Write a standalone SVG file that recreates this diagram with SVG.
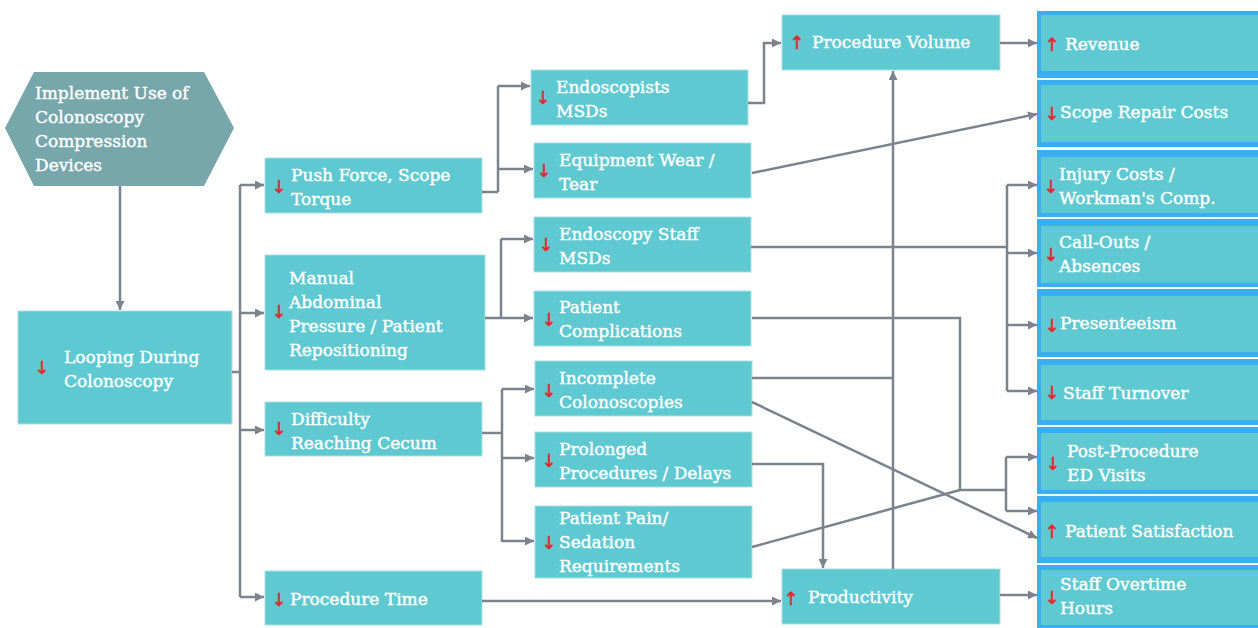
<svg xmlns="http://www.w3.org/2000/svg" width="1258" height="628" viewBox="0 0 1258 628">
<defs>
<marker id="ah" viewBox="0 0 10 10" refX="10" refY="5" markerWidth="9" markerHeight="9" markerUnits="userSpaceOnUse" orient="auto">
<path d="M0,0 L10,5 L0,10 z" fill="#7b848d"/>
</marker>
<style>
.box{fill:#5fc9d1;stroke:#a6e0e4;stroke-width:1}
.ob{fill:#3aaef2}
.ib{fill:#5fc9d1}
.t{font-family:"DejaVu Serif","Liberation Serif",serif;font-size:17px;fill:#ffffff;stroke:#ffffff;stroke-width:0.4}
.r{font-family:"DejaVu Sans",sans-serif;font-size:18px;fill:#e5232a;stroke:#e5232a;stroke-width:0.5;text-anchor:middle}
.c path{stroke:#7b848d;stroke-width:2.5;fill:none}
.c path.a{marker-end:url(#ah)}
</style>
</defs>
<rect width="1258" height="628" fill="#ffffff"/>

<g id="implement">
<polygon points="5,128 34,72 204,72 234,128 204,186 34,186" fill="#77a6ab"/>
<text class="t"><tspan x="35" y="99">Implement Use of</tspan><tspan x="35" y="123">Colonoscopy</tspan><tspan x="35" y="147">Compression</tspan><tspan x="35" y="171">Devices</tspan></text>
</g>

<g id="looping">
<rect class="box" x="18" y="311" width="214" height="113"/>
<text class="r" x="42" y="374">↓</text>
<text class="t"><tspan x="64" y="363">Looping During</tspan><tspan x="64" y="387">Colonoscopy</tspan></text>
</g>

<g id="pushforce">
<rect class="box" x="265" y="158" width="217" height="55"/>
<text class="r" x="279" y="193">↓</text>
<text class="t"><tspan x="291" y="181">Push Force, Scope</tspan><tspan x="291" y="205">Torque</tspan></text>
</g>

<g id="manual">
<rect class="box" x="265" y="255" width="220" height="115"/>
<text class="r" x="279" y="318">↓</text>
<text class="t"><tspan x="289" y="284">Manual</tspan><tspan x="289" y="308">Abdominal</tspan><tspan x="289" y="332">Pressure / Patient</tspan><tspan x="289" y="356">Repositioning</tspan></text>
</g>

<g id="difficulty">
<rect class="box" x="265" y="402" width="217" height="54"/>
<text class="r" x="279" y="435">↓</text>
<text class="t"><tspan x="291" y="425">Difficulty</tspan><tspan x="291" y="449">Reaching Cecum</tspan></text>
</g>

<g id="proctime">
<rect class="box" x="265" y="571" width="217" height="54"/>
<text class="r" x="279" y="606">↓</text>
<text class="t"><tspan x="290" y="605">Procedure Time</tspan></text>
</g>

<g id="endoscopists">
<rect class="box" x="531" y="70" width="217" height="55"/>
<text class="r" x="543" y="104">↓</text>
<text class="t"><tspan x="556" y="93">Endoscopists</tspan><tspan x="556" y="117">MSDs</tspan></text>
</g>

<g id="equipment">
<rect class="box" x="534" y="143" width="217" height="55"/>
<text class="r" x="544" y="177">↓</text>
<text class="t"><tspan x="559" y="166">Equipment Wear /</tspan><tspan x="559" y="190">Tear</tspan></text>
</g>

<g id="staffmsd">
<rect class="box" x="534" y="217" width="217" height="55"/>
<text class="r" x="546" y="251">↓</text>
<text class="t"><tspan x="559" y="240">Endoscopy Staff</tspan><tspan x="559" y="264">MSDs</tspan></text>
</g>

<g id="complications">
<rect class="box" x="534" y="291" width="217" height="55"/>
<text class="r" x="549" y="326">↓</text>
<text class="t"><tspan x="559" y="313">Patient</tspan><tspan x="559" y="337">Complications</tspan></text>
</g>

<g id="incomplete">
<rect class="box" x="535" y="361" width="217" height="55"/>
<text class="r" x="549" y="397">↓</text>
<text class="t"><tspan x="559" y="384">Incomplete</tspan><tspan x="559" y="408">Colonoscopies</tspan></text>
</g>

<g id="prolonged">
<rect class="box" x="535" y="432" width="217" height="55"/>
<text class="r" x="549" y="467">↓</text>
<text class="t"><tspan x="559" y="455">Prolonged</tspan><tspan x="559" y="479">Procedures / Delays</tspan></text>
</g>

<g id="pain">
<rect class="box" x="535" y="506" width="217" height="72"/>
<text class="r" x="549" y="549">↓</text>
<text class="t"><tspan x="559" y="524">Patient Pain/</tspan><tspan x="559" y="548">Sedation</tspan><tspan x="559" y="572">Requirements</tspan></text>
</g>

<g id="volume">
<rect class="box" x="782" y="15" width="218" height="55"/>
<text class="r" x="797" y="49">↑</text>
<text class="t"><tspan x="812" y="48">Procedure Volume</tspan></text>
</g>

<g id="productivity">
<rect class="box" x="782" y="569" width="218" height="55"/>
<text class="r" x="791" y="605">↑</text>
<text class="t"><tspan x="808" y="603">Productivity</tspan></text>
</g>

<g id="revenue">
<rect class="ob" x="1037" y="11" width="221" height="67"/>
<rect class="ib" x="1041" y="15" width="217" height="56"/>
<text class="r" x="1052" y="51">↑</text>
<text class="t"><tspan x="1065" y="50">Revenue</tspan></text>
</g>

<g id="scoperepair">
<rect class="ob" x="1037" y="80" width="221" height="67"/>
<rect class="ib" x="1041" y="85" width="217" height="57"/>
<text class="r" x="1052" y="120">↓</text>
<text class="t"><tspan x="1060" y="118">Scope Repair Costs</tspan></text>
</g>

<g id="injury">
<rect class="ob" x="1037" y="150" width="221" height="67"/>
<rect class="ib" x="1041" y="157" width="217" height="56"/>
<text class="r" x="1051" y="193">↓</text>
<text class="t"><tspan x="1059" y="180">Injury Costs /</tspan><tspan x="1059" y="204">Workman's Comp.</tspan></text>
</g>

<g id="callouts">
<rect class="ob" x="1037" y="219" width="221" height="68"/>
<rect class="ib" x="1041" y="226" width="217" height="57"/>
<text class="r" x="1051" y="261">↓</text>
<text class="t"><tspan x="1059" y="248">Call-Outs /</tspan><tspan x="1059" y="272">Absences</tspan></text>
</g>

<g id="presenteeism">
<rect class="ob" x="1037" y="289" width="221" height="68"/>
<rect class="ib" x="1041" y="296" width="217" height="56"/>
<text class="r" x="1052" y="332">↓</text>
<text class="t"><tspan x="1060" y="329">Presenteeism</tspan></text>
</g>

<g id="turnover">
<rect class="ob" x="1037" y="359" width="221" height="66"/>
<rect class="ib" x="1041" y="365" width="217" height="55"/>
<text class="r" x="1052" y="399">↓</text>
<text class="t"><tspan x="1063" y="399">Staff Turnover</tspan></text>
</g>

<g id="edvisits">
<rect class="ob" x="1037" y="427" width="221" height="67"/>
<rect class="ib" x="1041" y="433" width="217" height="57"/>
<text class="r" x="1053" y="470">↓</text>
<text class="t"><tspan x="1067" y="457">Post-Procedure</tspan><tspan x="1067" y="481">ED Visits</tspan></text>
</g>

<g id="satisfaction">
<rect class="ob" x="1037" y="496" width="221" height="67"/>
<rect class="ib" x="1041" y="502" width="217" height="55"/>
<text class="r" x="1052" y="538">↑</text>
<text class="t"><tspan x="1065" y="537">Patient Satisfaction</tspan></text>
</g>

<g id="overtime">
<rect class="ob" x="1037" y="565" width="221" height="63"/>
<rect class="ib" x="1041" y="570" width="217" height="55"/>
<text class="r" x="1052" y="604">↓</text>
<text class="t"><tspan x="1060" y="590">Staff Overtime</tspan><tspan x="1060" y="614">Hours</tspan></text>
</g>

<g id="connectors" class="c">
<path class="a" d="M120,186 V310"/>
<path d="M232,372 H240"/>
<path d="M240,185 V597"/>
<path class="a" d="M240,185 H264"/>
<path class="a" d="M240,313 H264"/>
<path class="a" d="M240,430 H264"/>
<path class="a" d="M240,597 H264"/>
<path d="M482,192 H498"/>
<path d="M498,86 V192"/>
<path class="a" d="M498,86 H530"/>
<path class="a" d="M498,169 H533"/>
<path d="M485,318 H501"/>
<path d="M501,239 V318"/>
<path class="a" d="M501,239 H533"/>
<path class="a" d="M501,318 H533"/>
<path d="M482,433 H502"/>
<path d="M502,389 V542"/>
<path class="a" d="M502,389 H534"/>
<path class="a" d="M502,458 H534"/>
<path class="a" d="M502,541 H534"/>
<path class="a" d="M748,103 H764 V43 H781"/>
<path class="a" d="M1000,43 H1037"/>
<path class="a" d="M752,173 L1037,114"/>
<path d="M751,247 H1007"/>
<path d="M1007,185 V391"/>
<path class="a" d="M1007,185 H1037"/>
<path class="a" d="M1007,253 H1037"/>
<path class="a" d="M1007,325 H1037"/>
<path class="a" d="M1007,391 H1037"/>
<path d="M752,318 H960 V490 H1006"/>
<path d="M1006,457 V511"/>
<path class="a" d="M1006,457 H1037"/>
<path class="a" d="M1006,511 H1037"/>
<path d="M752,547 L960,490"/>
<path d="M752,378 H893"/>
<path class="a" d="M752,402 L1037,538"/>
<path class="a" d="M752,464 H823 V568"/>
<path class="a" d="M482,601 H781"/>
<path class="a" d="M893,569 V71"/>
<path class="a" d="M1000,595 H1037"/>
</g>
</svg>
